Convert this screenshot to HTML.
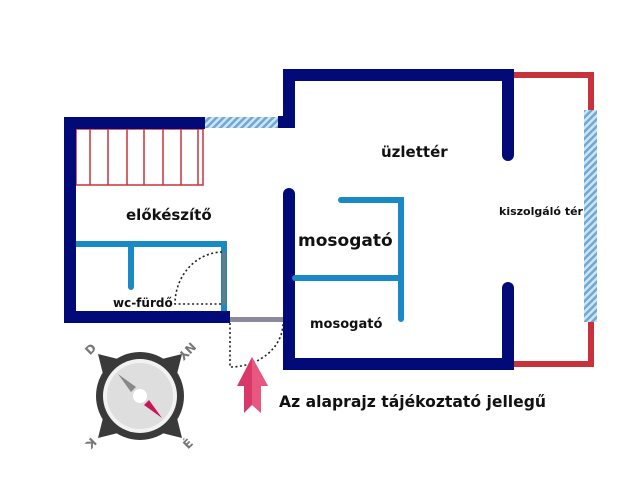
<!DOCTYPE html>
<html><head><meta charset="utf-8"><style>
html,body{margin:0;padding:0;background:#fff;}
svg{display:block;}
text{font-family:"DejaVu Sans","Liberation Sans",sans-serif;font-weight:bold;fill:#111;}
</style></head><body>
<svg width="640" height="495" viewBox="0 0 640 495" xmlns="http://www.w3.org/2000/svg">
<defs>
<pattern id="h" width="5" height="5" patternUnits="userSpaceOnUse" patternTransform="rotate(45)">
<rect width="5" height="5" fill="#cfe4f3"/><rect width="2.5" height="5" fill="#6fa8d6"/>
</pattern>
</defs>
<g stroke="#c8323a" stroke-width="1.5" fill="none">
<rect x="76" y="129" width="127" height="56"/>
<line x1="90" y1="129" x2="90" y2="185"/><line x1="108" y1="129" x2="108" y2="185"/>
<line x1="127" y1="129" x2="127" y2="185"/><line x1="144" y1="129" x2="144" y2="185"/>
<line x1="163" y1="129" x2="163" y2="185"/><line x1="181" y1="129" x2="181" y2="185"/>
<line x1="198" y1="129" x2="198" y2="185"/>
</g>
<g stroke="#c8323a" stroke-width="6" fill="none">
<polyline points="514,75 591,75 591,112"/>
<polyline points="591,320 591,364 514,364"/>
</g>
<rect x="584" y="110" width="13" height="212" fill="url(#h)"/>
<rect x="205" y="117" width="73" height="11" fill="url(#h)"/>
<g fill="#020a78">
<rect x="64" y="117" width="141" height="12"/>
<rect x="64" y="117" width="12" height="206"/>
<rect x="64" y="311" width="166" height="12"/>
<rect x="278" y="116" width="17" height="12"/>
<rect x="283" y="69" width="231" height="12"/>
<rect x="283" y="69" width="12" height="59"/>
<rect x="502" y="69" width="12" height="86"/><circle cx="508" cy="155" r="6"/>
<rect x="502" y="288" width="12" height="82"/><circle cx="508" cy="288" r="6"/>
<rect x="283" y="194" width="12" height="176"/><circle cx="289" cy="194" r="6"/>
<rect x="283" y="358" width="231" height="12"/>
</g>
<rect x="230" y="317" width="53" height="5" fill="#8a8a9a"/>
<g stroke="#1a8ac6" stroke-width="6" fill="none" stroke-linecap="round">
<polyline points="76,244 224,244 224,311" stroke-linecap="butt"/>
<line x1="131" y1="247" x2="131" y2="287"/>
<polyline points="341,200 401,200 401,319"/>
<line x1="295" y1="278" x2="401" y2="278"/>
</g>
<line x1="224" y1="252" x2="224" y2="305" stroke="#777" stroke-width="3"/>
<g stroke="#222" stroke-width="1.6" fill="none" stroke-dasharray="2,2.5">
<path d="M222,252 A48,52 0 0 0 175,304 L222,304"/>
<path d="M230,323 L230,367 A53,44 0 0 0 283,323"/>
</g>
<text x="126" y="220" font-size="15">előkészítő</text>
<text x="113" y="307" font-size="12">wc-fürdő</text>
<text x="381" y="157" font-size="15">üzlettér</text>
<text x="298" y="246" font-size="17">mosogató</text>
<text x="310" y="328" font-size="13">mosogató</text>
<text x="499" y="215" font-size="11">kiszolgáló tér</text>
<text x="279" y="407" font-size="16" textLength="267" lengthAdjust="spacingAndGlyphs">Az alaprajz tájékoztató jellegű</text>
<polygon points="252,357 268,386 261,386 261,413 252,405 244,413 244,386 237,386" fill="#d9386a"/>
<polygon points="252,357 268,386 261,386 261,413 252,405" fill="#e8577f"/>
<g transform="translate(140,396)">
<g fill="#3a3a3a">
<polygon points="-42,-42 -10,-34 -34,-10"/><polygon points="42,-42 34,-10 10,-34"/>
<polygon points="42,42 10,34 34,10"/><polygon points="-42,42 -34,10 -10,34"/>
</g>
<circle r="44" fill="#3a3a3a"/>
<circle r="37" fill="#f2f2f2"/>
<circle r="33" fill="#dedede"/>
<polygon points="-22,-22 -4,-9 -9,-4" fill="#888"/>
<polygon points="22,22 4,9 9,4" fill="#c8155a"/>
<circle r="7" fill="#fff"/>
<g font-size="12" font-weight="bold">
<text x="-54" y="-42" transform="rotate(-45 -50 -46)" style="fill:#777">D</text>
<text x="40" y="-42" transform="rotate(135 48 -46)" style="fill:#777">NY</text>
<text x="44" y="52" transform="rotate(-45 48 48)" style="fill:#777">É</text>
<text x="-56" y="52" transform="rotate(135 -50 48)" style="fill:#777">K</text>
</g>
</g>
</svg>
</body></html>
